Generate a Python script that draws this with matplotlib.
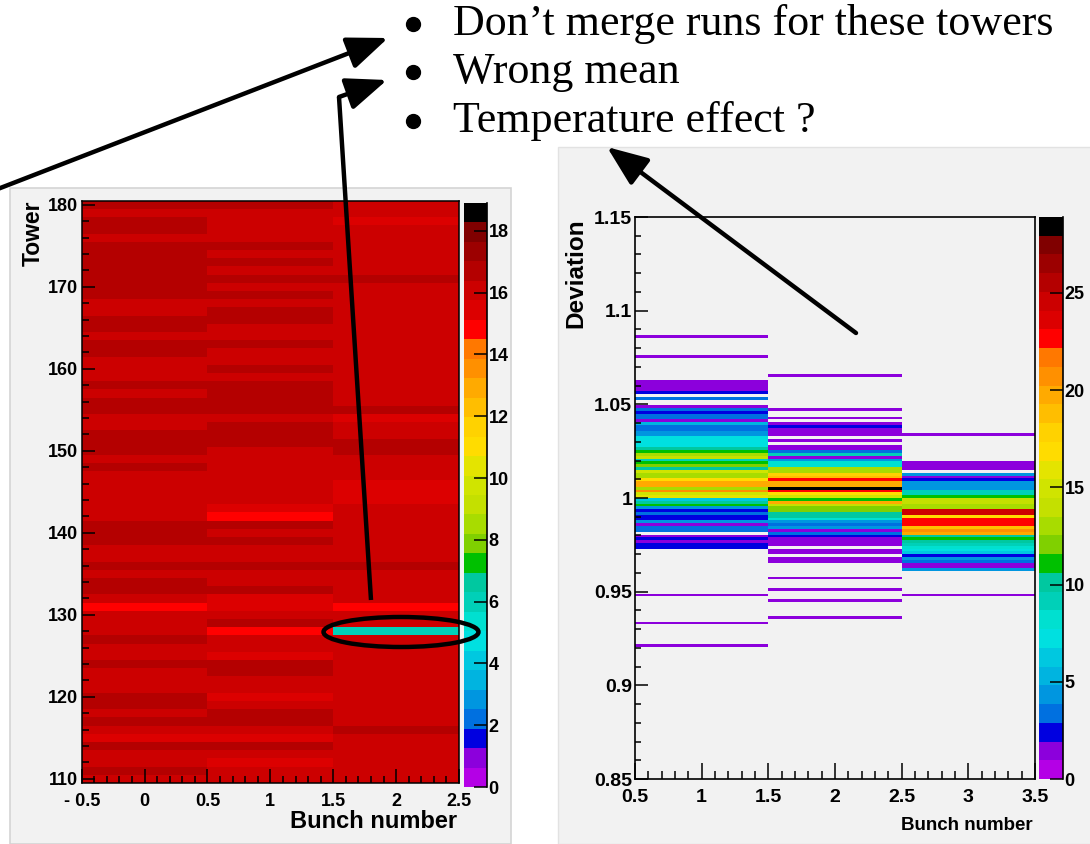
import numpy as np
import matplotlib
matplotlib.use("Agg")
import matplotlib.pyplot as plt
from matplotlib.colors import ListedColormap, BoundaryNorm
from matplotlib.patches import Rectangle, Ellipse, FancyArrowPatch
from matplotlib.cm import ScalarMappable

W, H = 1090, 844
PAD = "#f2f2f2"

plt.rcParams["font.family"] = ["Liberation Sans", "DejaVu Sans"]
plt.rcParams["font.weight"] = "bold"

# ROOT-like palette, 30 levels (bottom -> top)
palette = ["#b400e6", "#8c00dc", "#0000e0", "#0070e0", "#0096e0", "#00b4e0",
           "#00c8e0", "#00e0e0", "#00e0d0", "#00d0b8", "#00c8a0", "#00c000",
           "#80d000", "#a8dc00", "#c4e000", "#d0e400", "#e4e400", "#ffdc00",
           "#ffd200", "#ffbe00", "#ffaa00", "#ff9000", "#ff7800", "#ff0000",
           "#dc0000", "#cc0000", "#b40000", "#9c0000", "#800000", "#000000"]
cmap = ListedColormap(palette)

# ---- left panel: value per tower (110..180) for bunch 0, 1, 2
towers = np.arange(110, 181)
bunch0 = [16, 17, 16, 16, 17, 15.5, 16, 17, 16, 17,
          17, 16, 16, 16, 17, 16, 16, 17, 16, 16,
          16, 15, 16, 17, 17, 16, 17, 16, 16, 17,
          17, 17, 16, 16, 16, 16, 16, 16, 17, 16,
          17, 17, 17, 16, 16, 17, 17, 16, 17, 16,
          16, 16, 17, 17, 16, 17, 17, 16, 16, 17,
          17, 17, 17, 17, 17, 17, 16, 17, 17, 16,
          17]
bunch1 = [16, 16, 15.5, 16, 17, 15.5, 16, 17, 17, 16,
          15.5, 16, 16, 17, 17, 15.5, 16, 16, 15, 17,
          16, 15.5, 15.5, 17, 16, 16, 17, 16, 16, 17,
          16, 17, 15, 15.5, 16, 16, 16, 16, 16, 16,
          16, 17, 17, 17, 16, 17, 17, 17, 17, 16,
          17, 16, 16, 17, 16, 16, 17, 17, 16, 17,
          16, 17, 16, 17, 16, 17, 16, 16, 16, 16,
          17]
bunch2 = [16, 16, 16, 16, 16, 16, 17, 16, 16, 16,
          16, 16, 16, 16, 16, 16, 16, 16, 6, 16,
          16, 15, 16, 16, 16, 16, 17, 16, 16, 16,
          16, 16, 16, 16, 15.5, 15.5, 15.5, 16, 16, 16,
          17, 17, 16, 16, 15.5, 17, 16, 16, 16, 16,
          16, 16, 16, 16, 16, 16, 16, 16, 16, 16,
          16, 17, 16, 16, 16, 16, 16, 16, 15.5, 16,
          16]
left_zmax = 18.9

# ---- right panel: deviation bins (centres) and entries per bunch
dev_b1 = [1.0863, 1.0758, 1.0623, 1.0608, 1.0593, 1.0578, 1.0563, 1.0533,
          1.0488, 1.0473, 1.0458, 1.0443, 1.0428, 1.0413, 1.0398, 1.0383,
          1.0368, 1.0353, 1.0338, 1.0323, 1.0308, 1.0293, 1.0278, 1.0263,
          1.0248, 1.0233, 1.0218, 1.0203, 1.0188, 1.0173, 1.0158, 1.0143,
          1.0128, 1.0113, 1.0098, 1.0083, 1.0068, 1.0053, 1.0038, 1.0023,
          1.0008, 0.9993, 0.9978, 0.9963, 0.9948, 0.9933, 0.9918, 0.9903,
          0.9888, 0.9873, 0.9858, 0.9843, 0.9828, 0.9798, 0.9783, 0.9768,
          0.9753, 0.9738, 0.9483, 0.9333, 0.9213]
cnt_b1 = [1, 1, 1, 1, 1, 1, 2, 3,
          1, 3, 2, 3, 3, 1, 5, 3,
          3, 4, 4, 7, 7, 7, 7, 10,
          11, 13, 14, 9, 11, 12, 10, 15,
          13, 13, 17, 20, 20, 13, 21, 15,
          16, 6, 10, 11, 4, 2, 3, 2,
          2, 4, 1, 3, 3, 1, 2, 1,
          2, 2, 1, 1, 1]

dev_b2 = [1.0653, 1.0473, 1.0428, 1.0398, 1.0383, 1.0368, 1.0353, 1.0338,
          1.0308, 1.0278, 1.0263, 1.0248, 1.0233, 1.0218, 1.0203, 1.0188,
          1.0173, 1.0158, 1.0143, 1.0128, 1.0113, 1.0098, 1.0083, 1.0068,
          1.0053, 1.0038, 1.0023, 1.0008, 0.9993, 0.9978, 0.9963, 0.9948,
          0.9933, 0.9918, 0.9903, 0.9888, 0.9873, 0.9858, 0.9843, 0.9828,
          0.9813, 0.9798, 0.9783, 0.9768, 0.9753, 0.9723, 0.9708, 0.9678,
          0.9663, 0.9573, 0.9513, 0.9453, 0.9363]
cnt_b2 = [1, 1, 1, 1, 2, 1, 1, 1,
          1, 1, 1, 3, 9, 1, 4, 8,
          8, 13, 13, 18, 19, 23, 20, 20,
          28, 23, 17, 15, 11, 20, 14, 12,
          12, 10, 10, 8, 4, 3, 4, 1,
          3, 2, 1, 1, 1, 1, 1, 1,
          1, 1, 1, 1, 1]

dev_b3 = [1.0338, 1.0188, 1.0173, 1.0158, 1.0128, 1.0113, 1.0098, 1.0083,
          1.0068, 1.0053, 1.0038, 1.0023, 1.0008, 0.9993, 0.9978, 0.9963,
          0.9948, 0.9933, 0.9918, 0.9903, 0.9888, 0.9873, 0.9858, 0.9843,
          0.9828, 0.9813, 0.9798, 0.9783, 0.9768, 0.9753, 0.9738, 0.9723,
          0.9708, 0.9693, 0.9678, 0.9663, 0.9648, 0.9633, 0.9618, 0.9483]
cnt_b3 = [1, 1, 1, 1, 4, 1, 2, 4,
          4, 4, 9, 9, 11, 14, 14, 13,
          13, 25, 25, 17, 23, 23, 23, 19,
          21, 20, 10, 11, 10, 9, 8, 7,
          6, 2, 4, 3, 1, 1, 4, 1]
right_zmax = 28.9

notes = ["Don\u2019t merge runs for these towers", "Wrong mean", "Temperature effect ?"]


def box(x0, y0, x1, y1):
    return [x0 / W, 1 - y1 / H, (x1 - x0) / W, (y1 - y0) / H]


fig = plt.figure(figsize=(W / 100, H / 100), dpi=100)

# grey pads
fig.patches.append(Rectangle((10 / W, 0), 501 / W, 1 - 188 / H, transform=fig.transFigure,
                             facecolor=PAD, edgecolor="#d4d4d4", lw=1.2, zorder=-5))
fig.patches.append(Rectangle((558 / W, 0), 540 / W, 1 - 147 / H, transform=fig.transFigure,
                             facecolor=PAD, edgecolor="#e2e2e2", lw=1.0, zorder=-5))

# ---------- left histogram
normL = BoundaryNorm(np.linspace(0, left_zmax, 31), 30)
axL = fig.add_axes(box(81.7, 200.7, 459, 783))
Z = np.array([bunch0, bunch1, bunch2]).T
axL.pcolormesh([-0.5, 0.5, 1.5, 2.5], np.arange(towers[0] - 0.5, towers[-1] + 1.5), Z,
               cmap=cmap, norm=normL)
axL.set_xlim(-0.5, 2.5)
axL.set_ylim(109.5, 180.5)
axL.set_facecolor(PAD)
xt = [-0.5, 0, 0.5, 1, 1.5, 2, 2.5]
axL.set_xticks(xt, ["- 0.5", "0", "0.5", "1", "1.5", "2", "2.5"])
axL.set_xticks(np.arange(-0.5, 2.51, 0.1), minor=True)
axL.set_yticks(np.arange(110, 181, 10))
axL.set_yticks(np.arange(110, 181, 2), minor=True)
axL.tick_params(which="both", direction="in", top=False, right=False, width=1.1, labelsize=13)
axL.tick_params(axis="x", which="major", length=10, pad=7)
axL.tick_params(axis="x", which="minor", length=5)
axL.tick_params(axis="y", which="major", length=9.5, pad=3)
axL.tick_params(axis="y", which="minor", length=5)
for s in axL.spines.values():
    s.set_linewidth(1.1)

caxL = fig.add_axes(box(464, 203, 487, 787))
cbL = fig.colorbar(ScalarMappable(norm=normL, cmap=cmap), cax=caxL, ticks=np.arange(0, 19, 2))
cbL.outline.set_visible(False)
caxL.plot([1, 1], [0, 1], transform=caxL.transAxes, color="k", lw=1.2, clip_on=False)
caxL.tick_params(direction="in", length=9.5, width=1.1, pad=1, labelsize=13,
                 right=True, left=False)
caxL.minorticks_off()

# ---------- right histogram
yedges = np.linspace(0.85, 1.15, 201)
bx = np.concatenate([np.full(len(dev_b1), 1.0), np.full(len(dev_b2), 2.0), np.full(len(dev_b3), 3.0)])
by = np.concatenate([dev_b1, dev_b2, dev_b3])
bw = np.concatenate([cnt_b1, cnt_b2, cnt_b3])
hist, xe, ye = np.histogram2d(bx, by, bins=[[0.5, 1.5, 2.5, 3.5], yedges], weights=bw)
normR = BoundaryNorm(np.linspace(0, right_zmax, 31), 30)

axR = fig.add_axes(box(635, 217, 1035, 779))
axR.set_facecolor(PAD)
axR.pcolormesh(xe, ye, np.ma.masked_equal(hist.T, 0), cmap=cmap, norm=normR)
axR.set_xlim(0.5, 3.5)
axR.set_ylim(0.85, 1.15)
axR.set_xticks([0.5, 1, 1.5, 2, 2.5, 3, 3.5], ["0.5", "1", "1.5", "2", "2.5", "3", "3.5"])
axR.set_xticks(np.arange(0.5, 3.51, 0.1), minor=True)
axR.set_yticks([0.85, 0.9, 0.95, 1.0, 1.05, 1.1, 1.15], ["0.85", "0.9", "0.95", "1", "1.05", "1.1", "1.15"])
axR.set_yticks(np.arange(0.85, 1.151, 0.01), minor=True)
axR.tick_params(which="both", direction="in", top=False, right=False, width=1.1, labelsize=14)
axR.tick_params(axis="x", which="major", length=11.5, pad=7)
axR.tick_params(axis="x", which="minor", length=6)
axR.tick_params(axis="y", which="major", length=9, pad=2)
axR.tick_params(axis="y", which="minor", length=4.5)
for s in axR.spines.values():
    s.set_linewidth(1.2)

caxR = fig.add_axes(box(1039, 217, 1063, 779))
cbR = fig.colorbar(ScalarMappable(norm=normR, cmap=cmap), cax=caxR, ticks=np.arange(0, 26, 5))
cbR.outline.set_visible(False)
caxR.plot([1, 1], [0, 1], transform=caxR.transAxes, color="k", lw=1.2, clip_on=False)
caxR.tick_params(direction="in", length=9.5, width=1.1, pad=1, labelsize=13,
                 right=True, left=False)
caxR.minorticks_off()

# axis titles
fig.text(33 / W, 1 - 201 / H, "Tower", rotation=90, ha="center", va="top", fontsize=16.5)
fig.text(457 / W, 1 - 822 / H, "Bunch number", ha="right", va="center", fontsize=17)
fig.text(576 / W, 1 - 218 / H, "Deviation", rotation=90, ha="center", va="top", fontsize=17.5)
fig.text(1033 / W, 1 - 826 / H, "Bunch number", ha="right", va="center", fontsize=13.5)

# ---------- overlay: notes, arrows, ellipse
ov = fig.add_axes([0, 0, 1, 1], zorder=10)
ov.set_xlim(0, W)
ov.set_ylim(H, 0)
ov.axis("off")
for yb, s in zip([35, 83, 132], notes):
    ov.plot(413, yb - 11, "o", color="k", ms=10)
    ov.text(453, yb, s, family=["Liberation Serif"], weight="normal",
            fontsize=31.7, ha="left", va="baseline")

ast = "-|>,head_length=1.25,head_width=0.5"
ov.add_patch(FancyArrowPatch((-10, 192), (388, 38), arrowstyle=ast, mutation_scale=20,
                             lw=3.2, color="k", shrinkA=0, shrinkB=0))
ov.plot([371, 339], [600, 97], color="k", lw=3.2, solid_capstyle="butt")
ov.add_patch(FancyArrowPatch((339, 97), (387, 80), arrowstyle=ast, mutation_scale=20,
                             lw=3.2, color="k", shrinkA=0, shrinkB=0))
ov.add_patch(FancyArrowPatch((856, 333), (607, 147), arrowstyle=ast, mutation_scale=20,
                             lw=3.2, color="k", shrinkA=0, shrinkB=0))
ov.add_patch(Ellipse((401, 632), 155, 30, fill=False, lw=3.2, ec="k"))

fig.savefig("out.png", dpi=100)
